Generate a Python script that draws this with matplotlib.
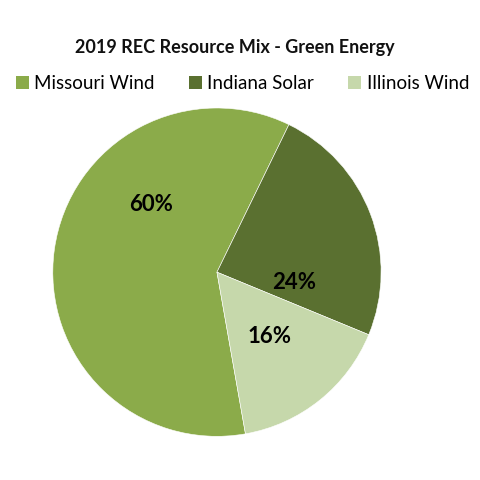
import matplotlib.pyplot as plt
from matplotlib.patches import Patch

# data
sources = ["Missouri Wind", "Indiana Solar", "Illinois Wind"]
shares = [60, 24, 16]
colors = ["#8BAB4A", "#5A7030", "#C6D8AB"]

# where the % labels sit (axes coords, pie radius = 1), like Excel best fit
label_xy = [(-0.40, 0.41), (0.47, -0.06), (0.32, -0.39)]

plt.rcParams['font.family'] = ['Lato', 'DejaVu Sans']

fig = plt.figure(figsize=(4.8, 4.8), dpi=100)
ax = fig.add_axes([0.452 - 0.342, 0.433 - 0.342, 0.684, 0.684])

wedges, texts, autotexts = ax.pie(
    shares, colors=colors, startangle=-80, counterclock=False,
    autopct="%d%%", radius=1,
    wedgeprops=dict(linewidth=0.4, edgecolor="white"),
    textprops=dict(fontsize=16, fontweight="bold", color="black"))
for t, (x, y) in zip(autotexts, label_xy):
    t.set_position((x, y))
    t.set_ha("center")
    t.set_va("center")
ax.set_xlim(-1, 1)
ax.set_ylim(-1, 1)
ax.set_aspect("equal")

fig.text(0.49, 0.902, "2019 REC Resource Mix - Green Energy", ha="center",
         va="center", fontsize=13, fontweight="bold", color="#111111")

handles = [Patch(facecolor=c, edgecolor="none") for c in colors]
fig.legend(handles, sources, loc="center", bbox_to_anchor=(0.505, 0.826),
           ncol=3, frameon=False, fontsize=13.5, handlelength=0.7,
           handleheight=0.7, handletextpad=0.3, columnspacing=1.8)

fig.savefig("out.png", dpi=100)
